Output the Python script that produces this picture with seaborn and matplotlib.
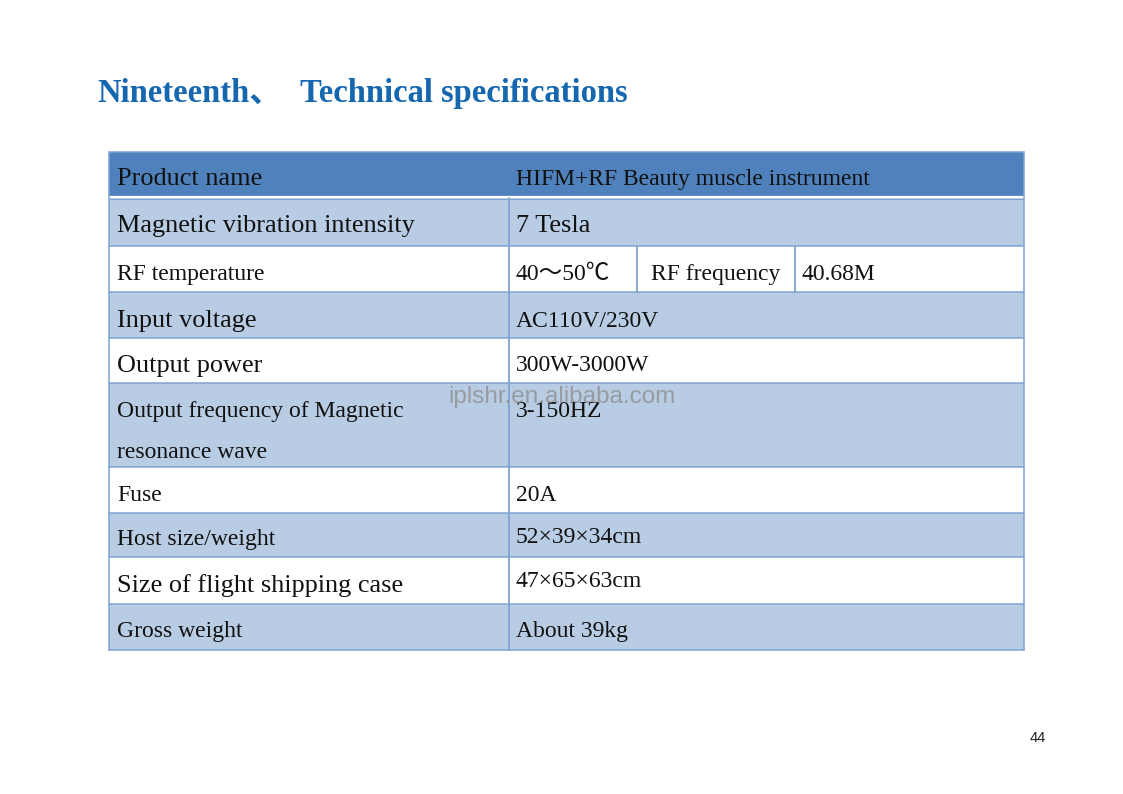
import matplotlib
matplotlib.use("Agg")
import matplotlib.pyplot as plt
from matplotlib.patches import Rectangle
import seaborn as sns

# ---------------- data ----------------
title_left = "Nineteenth、"
title_right = "Technical specifications"
spec_labels = ["Product name", "Magnetic vibration intensity", "RF temperature",
               "Input voltage", "Output power",
               "Output frequency of Magnetic\nresonance wave", "Fuse",
               "Host size/weight", "Size of flight shipping case", "Gross weight"]
spec_values = ["HIFM+RF Beauty muscle instrument", "7 Tesla", "40～50℃",
               "AC110V/230V", "300W-3000W", "3-150HZ", "20A",
               "52×39×34cm", "47×65×63cm", "About 39kg"]
extra_label = "RF frequency"
extra_value = "40.68M"
large_label = [True, True, False, True, True, False, False, False, True, False]
large_value = [False, True, False, False, False, False, False, False, False, False]
watermark = "iplshr.en.alibaba.com"
page_number = "44"

# ---------------- layout ----------------
W, H = 1123, 794
row_edges = [152, 198, 246, 292, 338, 383, 467, 513, 557, 604, 650]
x_left, x_mid, x_sub1, x_sub2, x_right = 109, 509, 637, 795, 1024
HEADER = "#4f81bd"
LIGHT = "#b8cce4"
BORDER = "#7fa3d0"
TITLE = "#1567b0"

sns.set_theme(style="white")
serif = ["Liberation Serif", "Noto Sans CJK SC", "DejaVu Sans"]
plt.rcParams["font.family"] = serif

fig = plt.figure(figsize=(W / 100, H / 100), dpi=100)
ax = fig.add_axes([0, 0, 1, 1])
ax.set_xlim(0, W)
ax.set_ylim(H, 0)
ax.axis("off")

# title
ax.text(97, 102, title_left, fontsize=23.5, fontweight="bold", color=TITLE,
        family=serif, va="baseline", ha="left")
ax.text(300, 102, title_right, fontsize=23.5, fontweight="bold", color=TITLE,
        family=serif, va="baseline", ha="left")

# row backgrounds
n = len(spec_labels)
for i in range(n):
    top, bot = row_edges[i], row_edges[i + 1]
    if i == 0:
        fc = HEADER
    elif i % 2 == 1:
        fc = LIGHT
    else:
        fc = "white"
    ax.add_patch(Rectangle((x_left, top), x_right - x_left, bot - top,
                           facecolor=fc, edgecolor="none", zorder=1))

# horizontal borders
for i, y in enumerate(row_edges):
    if i == 1:
        ax.plot([x_left, x_right], [y - 1, y - 1], color="white", lw=1.6, zorder=3)
        ax.plot([x_left, x_right], [y + 0.5, y + 0.5], color=BORDER, lw=0.8, zorder=3)
    else:
        ax.plot([x_left, x_right], [y, y], color=BORDER, lw=1.1, zorder=3)

# vertical borders
ax.plot([x_left, x_left], [row_edges[0], row_edges[-1]], color=BORDER, lw=1.1, zorder=3)
ax.plot([x_right, x_right], [row_edges[0], row_edges[-1]], color=BORDER, lw=1.1, zorder=3)
ax.plot([x_mid, x_mid], [row_edges[1], row_edges[-1]], color=BORDER, lw=1.3, zorder=3)
ax.plot([x_sub1, x_sub1], [row_edges[2], row_edges[3]], color=BORDER, lw=1.3, zorder=3)
ax.plot([x_sub2, x_sub2], [row_edges[2], row_edges[3]], color=BORDER, lw=1.3, zorder=3)

# texts
label_off = [33, 34, 34, 35, 34, 34, 34, 32, 35, 33]
value_off = [33, 34, 34, 35, 33, 34, 34, 30, 30, 33]
for i in range(n):
    top = row_edges[i]
    fs_l = 18.9 if large_label[i] else 17
    fs_v = 18.9 if large_value[i] else 17
    lines = spec_labels[i].split("\n")
    for k, line in enumerate(lines):
        ax.text(117, top + label_off[i] + 41 * k, line, fontsize=fs_l,
                color="#111111", family=serif, va="baseline", ha="left", zorder=4)
    ax.text(516, top + value_off[i], spec_values[i], fontsize=fs_v,
            color="#111111", family=serif, va="baseline", ha="left", zorder=4)

ax.text(651, row_edges[2] + 34, extra_label, fontsize=17, color="#111111",
        family=serif, va="baseline", ha="left", zorder=4)
ax.text(802, row_edges[2] + 34, extra_value, fontsize=17, color="#111111",
        family=serif, va="baseline", ha="left", zorder=4)

# watermark (overlaps the cell text in the reference as well)
ax.text(562, 397, watermark, fontsize=17.5, color="#8c8c8c", alpha=0.75,
        family=["Liberation Sans", "DejaVu Sans"], va="center", ha="center", zorder=5)

# page number
ax.text(1038, 738, page_number, fontsize=10.5, color="#222222",
        family=["Liberation Sans", "DejaVu Sans"], va="center", ha="center")

fig.savefig("out.png", dpi=100, facecolor="white")
